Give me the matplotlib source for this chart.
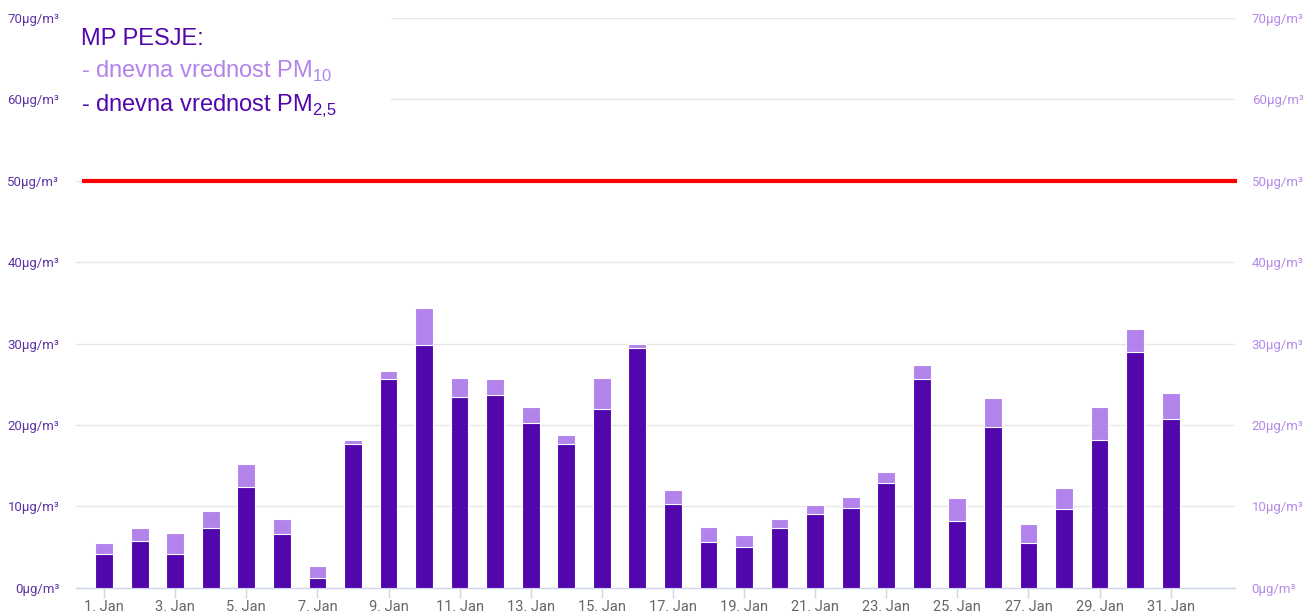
import matplotlib
matplotlib.use("Agg")
import matplotlib.pyplot as plt
from matplotlib import font_manager
from matplotlib.patches import Rectangle
import numpy as np

# ---- data ----
days = list(range(1, 32))
pm10 = [5.5, 7.3, 6.7, 9.4, 15.2, 8.4, 2.7, 18.2, 26.6, 34.4,
        25.8, 25.7, 22.2, 18.8, 25.8, 30.0, 12.0, 7.5, 6.5, 8.4,
        10.2, 11.2, 14.2, 27.4, 11.0, 23.3, 7.8, 12.2, 22.2, 31.8, 23.9]
pm25 = [4.2, 5.7, 4.2, 7.3, 12.4, 6.6, 1.2, 17.6, 25.6, 29.8,
        23.4, 23.7, 20.2, 17.7, 21.9, 29.5, 10.3, 5.6, 5.0, 7.3,
        9.1, 9.8, 12.9, 25.7, 8.2, 19.7, 5.5, 9.7, 18.1, 28.9, 20.7]
limit = 50
yticks = [0, 10, 20, 30, 40, 50, 60, 70]
ytick_labels = [f"{v}μg/m³" for v in yticks]
xticks = days[::2]
xtick_labels = [f"{d}. Jan" for d in xticks]
title_lines = ["MP PESJE:", r"- dnevna vrednost PM$_\mathregular{10}$",
               r"- dnevna vrednost PM$_\mathregular{2{,}5}$"]

# ---- fonts ----
avail = {f.name for f in font_manager.fontManager.ttflist}
def pick(*names):
    for n in names:
        if n in avail:
            return n
    return "DejaVu Sans"
narrow = pick("Liberation Sans Narrow", "Liberation Sans")
title_size = 20 if narrow == "Liberation Sans Narrow" else 17
label_font = pick("Liberation Sans Narrow", "Roboto", "DejaVu Sans")
plt.rcParams["mathtext.fontset"] = "custom"
plt.rcParams["mathtext.rm"] = narrow
plt.rcParams["font.family"] = [narrow, "DejaVu Sans"]

DARK = "#5207ad"
LIGHT = "#b383ec"

fig = plt.figure(figsize=(13.03, 6.14), dpi=100)
ax = fig.add_axes([76/1303, (614-587.7)/614, (1235-76)/1303, (587.7-17.9)/614])

x = np.array(days)
ax.bar(x, pm10, width=0.5, color=LIGHT, edgecolor="white", linewidth=0.8, zorder=2)
ax.bar(x, pm25, width=0.5, color=DARK, edgecolor="white", linewidth=0.8, zorder=3)

ax.set_xlim(0.21, 32.81)
ax.set_ylim(0, 70)
ax.set_yticks(yticks)
ax.set_yticklabels(ytick_labels, family=[label_font, "DejaVu Sans"], fontsize=9.5, color="#5e34a3")
ax.yaxis.grid(True, color="#e6e6e6", linewidth=1)
ax.set_axisbelow(True)
ax.tick_params(axis="y", length=0, pad=12)

ax.set_xticks(xticks)
ax.set_xticklabels(xtick_labels, family=[label_font, "DejaVu Sans"], fontsize=10.5, color="#666666")
ax.tick_params(axis="x", length=7, width=1, color="#ccd6eb", pad=2)

for s in ["top", "right", "left"]:
    ax.spines[s].set_visible(False)
ax.spines["bottom"].set_color("#ccd6eb")
ax.spines["bottom"].set_linewidth(1)

ax2 = ax.twinx()
ax2.set_ylim(0, 70)
ax2.set_yticks(yticks)
ax2.set_yticklabels(ytick_labels, family=[label_font, "DejaVu Sans"], fontsize=9.5, color="#b58be8")
ax2.tick_params(axis="y", length=0, pad=12)
for s in ["top", "right", "left", "bottom"]:
    ax2.spines[s].set_visible(False)

# limit line
ax.plot([0.005, 1.0017], [limit, limit], transform=ax.get_yaxis_transform(),
        color="#ff0000", linewidth=3, zorder=4, clip_on=False, solid_capstyle="butt")

# white box behind title
ax.add_patch(Rectangle((0, 0.82), 0.272, 0.19, transform=ax.transAxes,
                       facecolor="white", edgecolor="none", zorder=1.5, clip_on=False))

colors = [DARK, LIGHT, DARK]
ys = [45, 78, 112]
for line, c, yb in zip(title_lines, colors, ys):
    fig.text(81/1303, 1 - yb/614, line, color=c, fontsize=title_size, family=narrow,
             ha="left", va="baseline")

fig.savefig("out.png", dpi=100)
